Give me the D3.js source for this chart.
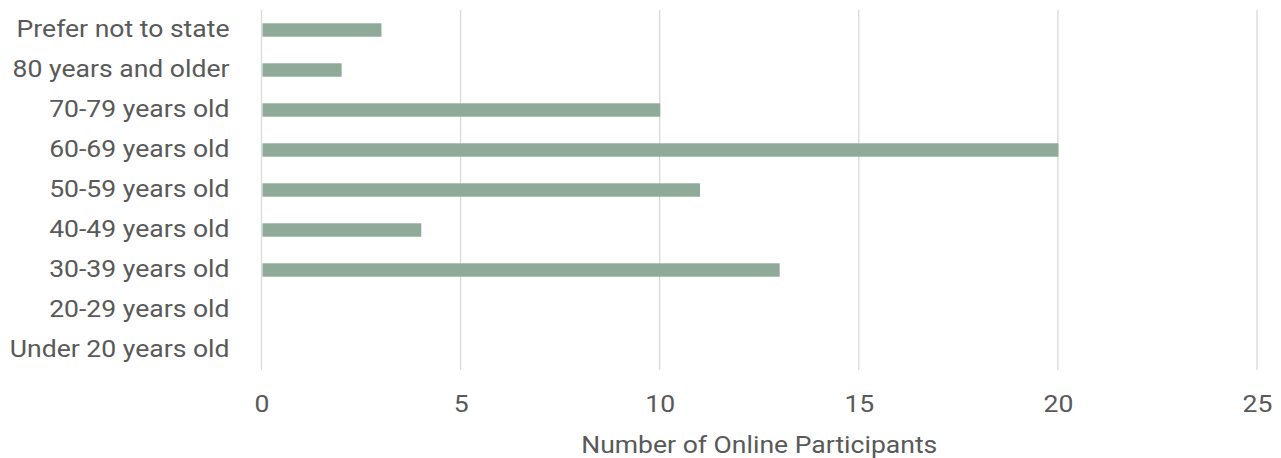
<!DOCTYPE html>
<html><head><meta charset="utf-8">
<script src="https://cdn.jsdelivr.net/npm/d3@7"></script>
<style>html,body{margin:0;padding:0;background:#fff;}svg{display:block;}</style>
</head><body>
<svg id="c" width="1281" height="458"></svg>
<script>
const categories = ["Prefer not to state","80 years and older","70-79 years old","60-69 years old","50-59 years old","40-49 years old","30-39 years old","20-29 years old","Under 20 years old"];
const values = [3,2,10,20,11,4,13,0,0];
const xTicks = [0,5,10,15,20,25];
const xTitle = "Number of Online Participants";

const svg = d3.select("#c");
const m = {left:261.5, right:1257, top:10, bottom:370};
const x = d3.scaleLinear().domain([0,25]).range([m.left, m.right]);
const y = d3.scaleBand().domain(categories).range([m.top, m.bottom]).paddingInner(0.665).paddingOuter(0.3325);
const font = "Roboto, 'Noto Sans', sans-serif";
const fs = 23.5, sx = 1.13;

// gridlines
svg.append("g").selectAll("line").data(xTicks).join("line")
  .attr("x1", d=>x(d)).attr("x2", d=>x(d))
  .attr("y1", m.top).attr("y2", m.bottom)
  .attr("stroke", "#d9d9d9").attr("stroke-width", 1.3);

// bars
svg.append("g").selectAll("rect").data(categories).join("rect")
  .attr("x", x(0)+1)
  .attr("y", d=>y(d))
  .attr("width", (d,i)=>Math.max(0, x(values[i])-x(0)-0.5))
  .attr("height", y.bandwidth())
  .attr("fill", "#8faa99")
  .attr("display", (d,i)=>values[i]>0?null:"none");

// x axis tick labels
const xAxis = d3.axisBottom(x).tickValues(xTicks).tickSize(0).tickPadding(0);
const gx = svg.append("g").attr("transform", `translate(0,${m.bottom+42})`).call(xAxis);
gx.select(".domain").remove();
gx.selectAll("text").attr("y", 0).attr("dy", 0)
  .attr("transform", `scale(${sx},1)`)
  .attr("font-family", font).attr("font-size", fs).attr("fill", "#595959");

// y axis labels
const yAxis = d3.axisLeft(y).tickSize(0).tickPadding(0);
const gy = svg.append("g").attr("transform", `translate(229.5,0)`).call(yAxis);
gy.select(".domain").remove();
gy.selectAll("text").attr("x", 0).attr("dy", "0.29em")
  .attr("transform", `scale(${sx},1)`)
  .attr("font-family", font).attr("font-size", fs).attr("fill", "#595959");

// title
svg.append("g").attr("transform", `translate(${(m.left+m.right)/2},453)`)
  .append("text").attr("text-anchor", "middle")
  .attr("transform", `scale(${sx},1)`)
  .attr("font-family", font).attr("font-size", fs).attr("fill", "#595959")
  .text(xTitle);
</script>
</body></html>
